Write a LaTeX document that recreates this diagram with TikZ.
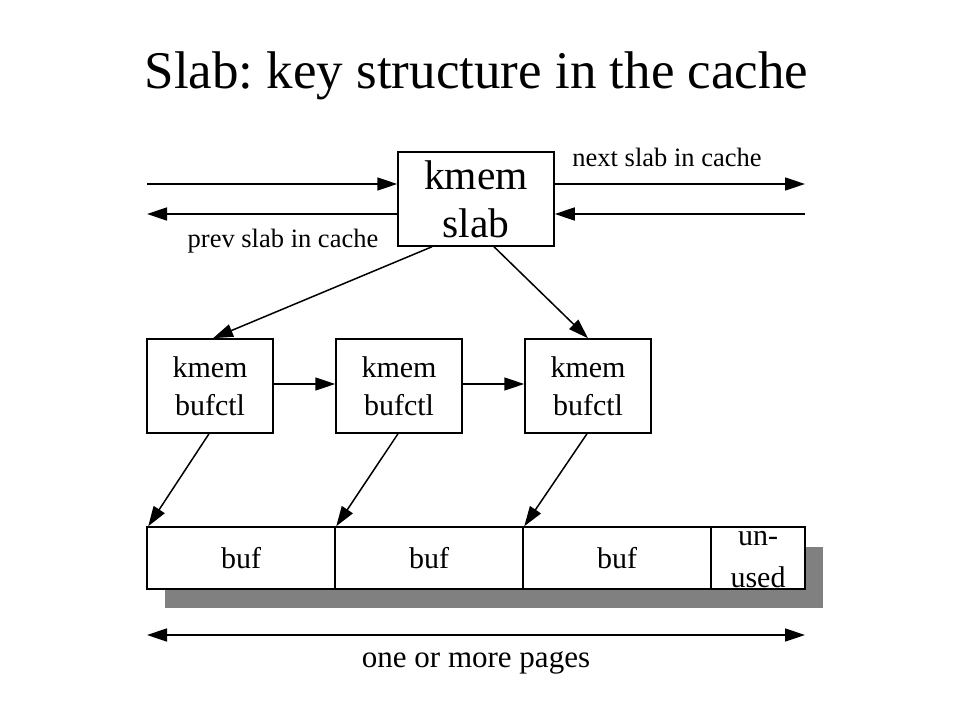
\documentclass[tikz,border=0pt]{standalone}
\usepackage{fontspec}
\setmainfont{Liberation Serif}
\usetikzlibrary{arrows.meta}
\frenchspacing
\begin{document}
\begin{tikzpicture}[x=1bp,y=-1bp,
  arr/.style={line width=1.5bp,-{Triangle[length=20bp,width=13bp]}},
  dblarr/.style={line width=1.5bp,{Triangle[length=20bp,width=13bp]}-{Triangle[length=20bp,width=13bp]}},
  box/.style={draw,line width=1.5bp,fill=white,inner sep=0pt,align=center},
  bigtxt/.style={font=\fontsize{41.5bp}{48bp}\selectfont},
  midtxt/.style={font=\fontsize{30bp}{38bp}\selectfont},
  smalltxt/.style={font=\fontsize{26.5bp}{30bp}\selectfont}]
\useasboundingbox[fill=white] (0,0) rectangle (959,719);
% title
\node[anchor=base,font=\fontsize{53bp}{60bp}\selectfont] (title) at (476.5,89) {Slab: key structure in the cache};
% slab
\node[box,bigtxt,minimum width=156bp,minimum height=94bp] (slab) at (476,199) {kmem\\slab};
\coordinate (inL) at (147,184);
\coordinate (outR) at (805,184);
\coordinate (outL) at (147,214);
\coordinate (inR) at (805,214);
\draw[arr] (inL) -- (inL -| slab.west);
\draw[arr] (slab.east |- outR) -- (outR);
\draw[arr] (outL -| slab.west) -- (outL);
\draw[arr] (inR) -- (inR -| slab.east);
\node[smalltxt,anchor=base] (next) at (667,167) {next slab in cache};
\node[smalltxt,anchor=base] (prev) at (283,247) {prev slab in cache};
% bufctls
\node[box,midtxt,minimum width=126bp,minimum height=94bp] (b1) at (210,386) {kmem\\bufctl};
\node[box,midtxt,minimum width=126bp,minimum height=94bp] (b2) at (399,386) {kmem\\bufctl};
\node[box,midtxt,minimum width=126bp,minimum height=94bp] (b3) at (588,386) {kmem\\bufctl};
\draw[arr] ([xshift=-44bp]slab.south) -- ([xshift=3bp]b1.north);
\draw[arr] ([xshift=18bp]slab.south) -- (b3.north);
\draw[arr] ([yshift=2bp]b1.east) -- ([yshift=2bp]b2.west);
\draw[arr] ([yshift=2bp]b2.east) -- ([yshift=2bp]b3.west);
% shadow
\fill[black!50] (165,547) rectangle (823,608);
% buffers
\node[box,midtxt,minimum width=188bp,minimum height=62bp] (c1) at (241,558) {buf};
\node[box,midtxt,minimum width=188bp,minimum height=62bp] (c2) at (429,558) {buf};
\node[box,midtxt,minimum width=188bp,minimum height=62bp] (c3) at (617,558) {buf};
\node[box,minimum width=94bp,minimum height=62bp] (c4) at (758,558) {};
\node[midtxt,anchor=base,inner sep=0pt] (un) at (758,545) {un-};
\node[midtxt,anchor=base,inner sep=0pt] (used) at (758,587) {used};
\draw[arr] ([xshift=-1bp]b1.south) -- ([xshift=2bp]c1.north west);
\draw[arr] ([xshift=-1bp]b2.south) -- ([xshift=2bp]c2.north west);
\draw[arr] ([xshift=-1bp]b3.south) -- ([xshift=2bp]c3.north west);
% pages
\coordinate (pL) at (147,635);
\coordinate (pR) at (805,635);
\draw[dblarr] (pL) -- (pR);
\node[anchor=base,font=\fontsize{31bp}{36bp}\selectfont] (pages) at (476,667) {one or more pages};
\end{tikzpicture}
\end{document}
